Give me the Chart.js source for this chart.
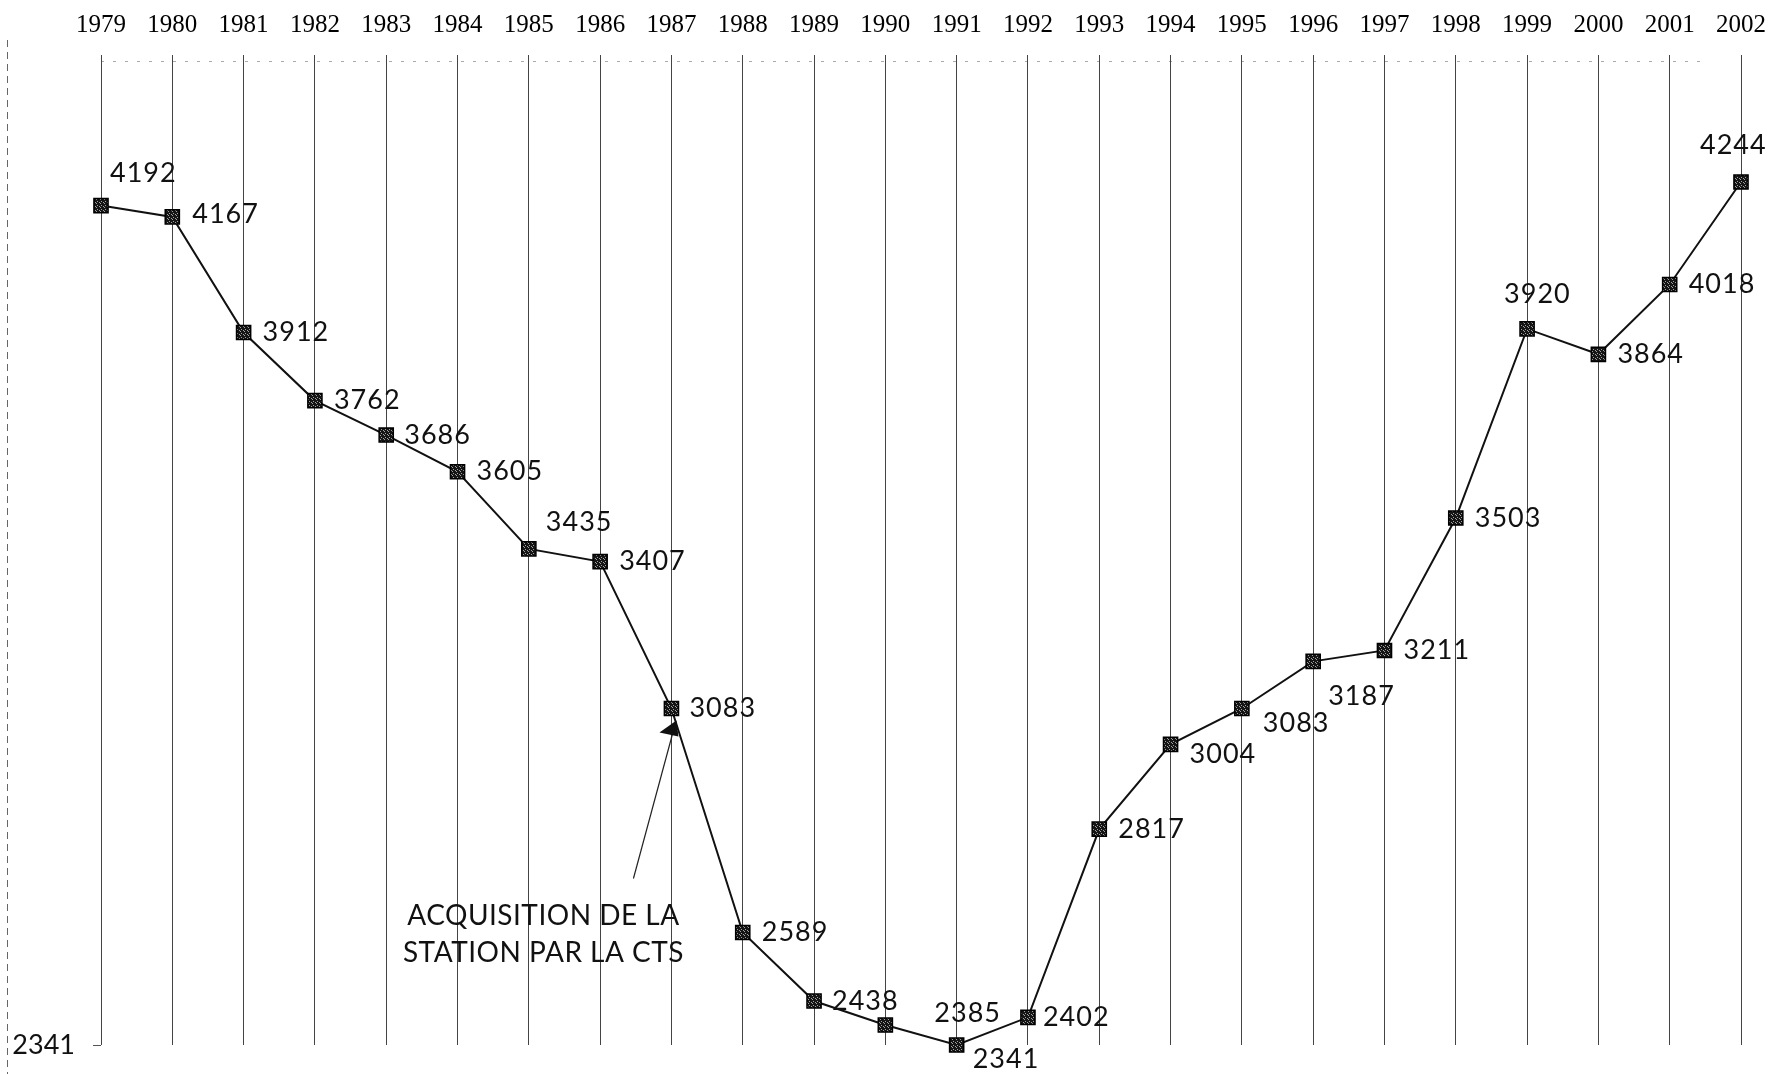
<!DOCTYPE html>
<html><head><meta charset="utf-8">
<script src="https://cdn.jsdelivr.net/npm/chart.js@4/dist/chart.umd.min.js"></script>
<style>html,body{margin:0;padding:0;background:#fff;overflow:hidden}#wrap{width:1773px;height:1074px;position:relative}</style>
</head><body><div id="wrap"><canvas id="c" width="1773" height="1074"></canvas></div>
<script>
// ---- data ----
const years = ['1979','1980','1981','1982','1983','1984','1985','1986','1987','1988','1989','1990','1991','1992','1993','1994','1995','1996','1997','1998','1999','2000','2001','2002'];
const values = [4192,4167,3912,3762,3686,3605,3435,3407,3083,2589,2438,2385,2341,2402,2817,3004,3083,3187,3211,3503,3920,3864,4018,4244];
const yTicks = [2341];
const annotationLines = ['ACQUISITION DE LA', 'STATION PAR LA CTS'];
const annotationYear = '1987';

// ---- layout of value labels (left edge dx, centre dy relative to point) ----
const labelOffsets = [[9,-32],[20,-3],[19,0],[19,0],[18,0],[19,0],[17,-27],[19,0],[18,0],[19,0],[18,0],[49,-12],[16,14],[15,0],[19,0],[19,10],[21,15],[15,35],[19,0],[19,0],[-23,-35],[19,0],[19,0],[-41,-37]];

const LABEL_FONT = '27px Lato, "Open Sans", sans-serif';

// marker pattern
const pc = document.createElement('canvas'); pc.width = 4; pc.height = 4;
const pctx = pc.getContext('2d');
pctx.fillStyle = '#151515'; pctx.fillRect(0,0,4,4);
pctx.fillStyle = '#a0a0a0'; pctx.fillRect(1,1,1,1); pctx.fillRect(3,2,1,1); pctx.fillRect(0,3,1,1);
const markerPattern = pctx.createPattern(pc, 'repeat');

const decorPlugin = {
  id: 'decor',
  beforeDraw(chart) {
    const ctx = chart.ctx, a = chart.chartArea;
    ctx.save();
    ctx.strokeStyle = '#666'; ctx.lineWidth = 1; ctx.setLineDash([7,5]);
    ctx.beginPath(); ctx.moveTo(7.5, 40); ctx.lineTo(7.5, 1074); ctx.stroke();
    ctx.strokeStyle = '#aaa'; ctx.setLineDash([3,9]);
    ctx.beginPath(); ctx.moveTo(a.left, a.top + 6.5); ctx.lineTo(a.right - 40, a.top + 6.5); ctx.stroke();
    ctx.restore();
  },
  afterDatasetsDraw(chart) {
    const ctx = chart.ctx;
    const xs = chart.scales.x, ys = chart.scales.y;
    ctx.save();
    ctx.fillStyle = '#111';
    ctx.font = LABEL_FONT;
    ctx.letterSpacing = '1px';
    ctx.textBaseline = 'middle';
    ctx.textAlign = 'left';
    values.forEach((v, i) => {
      const px = xs.getPixelForValue(i), py = ys.getPixelForValue(v);
      const o = labelOffsets[i];
      ctx.fillText(String(v), px + o[0], py + o[1]);
    });
    // annotation
    const ai = years.indexOf(annotationYear);
    const ax = xs.getPixelForValue(ai), ay = ys.getPixelForValue(values[ai]);
    ctx.textAlign = 'center';
    ctx.font = '28px Lato, "Open Sans", sans-serif';
    ctx.letterSpacing = '0.5px';
    annotationLines.forEach((t, k) => ctx.fillText(t, ax - 128, ay + 207 + k * 37));
    // arrow
    ctx.letterSpacing = '0px';
    ctx.strokeStyle = '#222'; ctx.lineWidth = 1.2;
    ctx.beginPath(); ctx.moveTo(ax - 38, ay + 170); ctx.lineTo(ax + 2, ay + 22); ctx.stroke();
    ctx.fillStyle = '#111';
    ctx.beginPath();
    ctx.moveTo(ax + 5, ay + 12);
    ctx.lineTo(ax - 12, ay + 24);
    ctx.lineTo(ax + 7, ay + 28);
    ctx.closePath(); ctx.fill();
    ctx.restore();
  }
};

new Chart(document.getElementById('c'), {
  type: 'line',
  data: {
    labels: years,
    datasets: [{
      data: values,
      borderColor: '#111',
      borderWidth: 2,
      pointStyle: 'rect',
      pointRadius: 10,
      pointBackgroundColor: markerPattern,
      pointBorderColor: '#000',
      pointBorderWidth: 1.5,
      tension: 0,
      clip: false
    }]
  },
  options: {
    responsive: false,
    animation: false,
    devicePixelRatio: 1,
    layout: { padding: { top: 8, left: 5, right: 32, bottom: 29 } },
    plugins: { legend: { display: false }, tooltip: { enabled: false } },
    scales: {
      x: {
        position: 'top',
        offset: false,
        afterFit(s) { s.height = 47; s.paddingLeft = 0; s.paddingRight = 0; },
        border: { display: false },
        grid: { color: '#444', lineWidth: 1, drawTicks: false, drawOnChartArea: true },
        ticks: { color: '#000', padding: 15, maxRotation: 0, autoSkip: false,
          font: { family: '"Liberation Serif", "DejaVu Serif", serif', size: 25 } }
      },
      y: {
        min: 2341, max: 4524,
        afterFit(s) { s.width = 96; s.paddingTop = 0; s.paddingBottom = 0; },
        afterBuildTicks(s) { s.ticks = yTicks.map(v => ({ value: v })); },
        border: { display: false },
        grid: { drawOnChartArea: false, drawTicks: true, tickLength: 8, color: '#555' },
        ticks: { color: '#111', padding: 18, callback: v => String(v),
          font: { family: 'Lato, "Open Sans", sans-serif', size: 27 } }
      }
    }
  },
  plugins: [decorPlugin]
});
</script>
</body></html>
